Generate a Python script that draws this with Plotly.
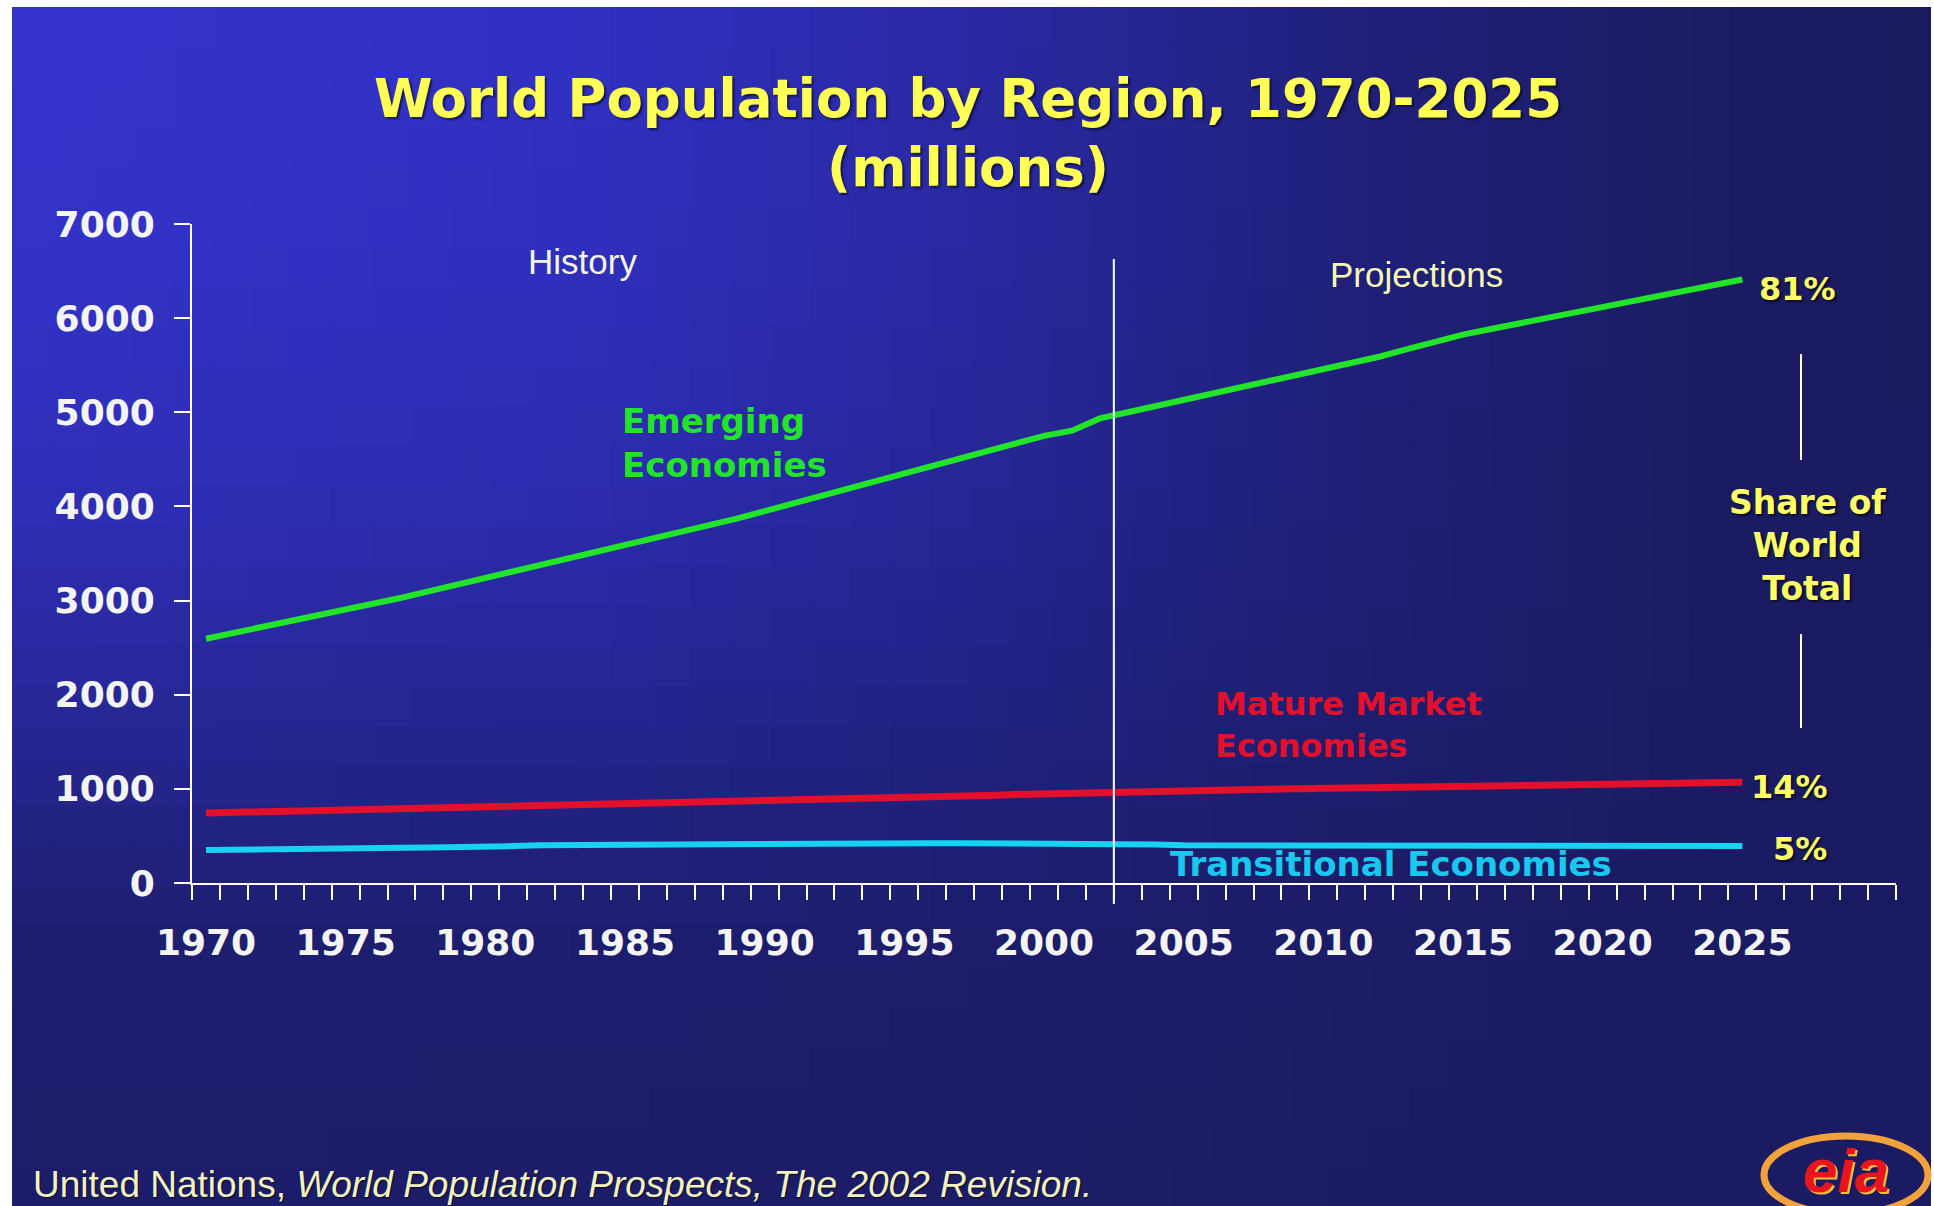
import plotly.graph_objects as go

# ---------------- data (millions) ----------------
years = list(range(1970, 2026))
emerging = [2595, 2655, 2720, 2790, 2850, 2910, 2970, 3030, 3100, 3170,
            3240, 3300, 3375, 3440, 3510, 3580, 3650, 3720, 3790, 3870,
            3950, 4030, 4110, 4190, 4270, 4350, 4430, 4510, 4600, 4675,
            4750, 4805, 4935, 5000, 5065, 5130, 5190, 5260, 5320, 5385,
            5445, 5510, 5590, 5670, 5750, 5825, 5885, 5945, 6000, 6060,
            6120, 6180, 6240, 6295, 6350, 6410]
mature = [744, 750, 756, 762, 768, 774, 780, 786, 792, 798,
          805, 812, 818, 825, 832, 838, 845, 852, 858, 866,
          873, 880, 887, 894, 901, 908, 915, 922, 929, 940,
          948, 956, 962, 967, 972, 977, 982, 990, 995, 1000,
          1005, 1012, 1016, 1020, 1024, 1030, 1034, 1038, 1042, 1046,
          1050, 1058, 1062, 1066, 1068, 1070]
transitional = [351, 352, 353, 354, 360, 370, 372, 374, 376, 378,
                381, 392, 401, 403, 405, 407, 409, 411, 416, 422,
                424, 425, 425, 424, 424, 423, 423, 422, 422, 421,
                421, 420, 420, 418, 410, 400, 399, 399, 398, 398,
                398, 397, 397, 397, 396, 396, 396, 395, 395, 395,
                394, 394, 394, 393, 393, 393]
label_years = [1970, 1975, 1980, 1985, 1990, 1995, 2000, 2005, 2010, 2015, 2020, 2025]
y_ticks = [0, 1000, 2000, 3000, 4000, 5000, 6000, 7000]
shares = {"Emerging": "81%", "Mature": "14%", "Transitional": "5%"}
history_end = 2002.5

assert len(emerging) == len(mature) == len(transitional) == len(years)

# ---------------- layout geometry ----------------
W, H = 1934, 1206
L, R, T, B = 192, 38, 224, 323
PW, PH = W - L - R, H - T - B


def px(xp):
    return (xp - L) / PW


def py(yp):
    return (H - B - yp) / PH


BOLD = "DejaVu Sans"
REG = "Liberation Sans"
YELLOW = "#ffff66"

fig = go.Figure()

fig.add_trace(go.Scatter(x=years, y=transitional, mode="lines",
                         line=dict(color="#18d2f2", width=6), name="Transitional Economies"))
fig.add_trace(go.Scatter(x=years, y=mature, mode="lines",
                         line=dict(color="#e3102c", width=7), name="Mature Market Economies"))
fig.add_trace(go.Scatter(x=years, y=emerging, mode="lines",
                         line=dict(color="#22e52a", width=6), name="Emerging Economies"))

# ---------------- background gradient (decoration) ----------------
shapes = []
x_left, x_right, y_top, y_bot = 12, 1930, 7, 1206
hstops = [(0.0, (52, 52, 206)), (0.3, (48, 48, 194)), (0.5, (41, 41, 164)),
          (0.7, (32, 32, 124)), (0.85, (28, 28, 104)), (1.0, (26, 26, 94))]
vstops = [(0.0, 0.0), (0.2, 0.05), (0.4, 0.2), (0.55, 0.45), (0.68, 0.7),
          (0.78, 0.88), (1.0, 0.95)]
dark = (27, 27, 100)


def interp(stops, t):
    for (t0, v0), (t1, v1) in zip(stops[:-1], stops[1:]):
        if t <= t1:
            f = (t - t0) / (t1 - t0) if t1 > t0 else 0
            if isinstance(v0, tuple):
                return tuple(a + (b - a) * f for a, b in zip(v0, v1))
            return v0 + (v1 - v0) * f
    return stops[-1][1]


NX, NY = 48, 30
cw = (x_right - x_left) / NX
ch = (y_bot - y_top) / NY
for i in range(NX):
    tx = (i + 0.5) / NX
    base = interp(hstops, tx)
    for j in range(NY):
        ty = (j + 0.5) / NY
        a = interp(vstops, ty)
        c = tuple(int(round(b * (1 - a) + d * a)) for b, d in zip(base, dark))
        shapes.append(dict(type="rect", xref="paper", yref="paper", layer="below",
                           x0=px(x_left + i * cw), x1=px(x_left + (i + 1) * cw + 1),
                           y0=py(y_top + j * ch), y1=py(y_top + (j + 1) * ch + 1),
                           line=dict(width=0), fillcolor="rgb(%d,%d,%d)" % c))

# History / projections divider
shapes.append(dict(type="line", xref="x", yref="paper", x0=history_end, x1=history_end,
                   y0=py(259), y1=py(904), line=dict(color="white", width=2), layer="above"))
# Share-of-world-total bracket lines
for y0p, y1p in [(354, 460), (634, 728)]:
    shapes.append(dict(type="line", xref="paper", yref="paper", x0=px(1801), x1=px(1801),
                       y0=py(y0p), y1=py(y1p), line=dict(color="white", width=2)))
# logo ellipse
shapes.append(dict(type="circle", xref="paper", yref="paper", x0=px(1764), x1=px(1928),
                   y0=py(1214), y1=py(1136), line=dict(color="#f2a23a", width=7),
                   fillcolor="rgba(0,0,0,0)"))

annotations = []


def ann(text, x, y, size, color, xref="x", yref="y", xanchor="center", yanchor="middle",
        family=BOLD, weight="bold", align="center", shadow="auto", style="normal"):
    annotations.append(dict(text=text, x=x, y=y, xref=xref, yref=yref, showarrow=False,
                            xanchor=xanchor, yanchor=yanchor, align=align,
                            font=dict(family=family, size=size, color=color, weight=weight,
                                      shadow=shadow, style=style)))


def dx(xp):
    return 1969.5 + (xp - L) / (PW / 61.0)


def dy(yp):
    return (H - B - yp) / PH * 7000


SH = "2px 2px 2px rgba(0,0,0,0.6)"
ann("History", dx(582), dy(261), 35, "#f4f4dc", family=REG, weight="normal", shadow="none")
ann("Projections", dx(1416), dy(274), 35, "#f8f8b4", family=REG, weight="normal", shadow="none")
ann("Emerging<br>Economies", dx(620), dy(443), 34, "#22e52a", xanchor="left", align="left",
    shadow="none")
ann("Mature Market<br>Economies", dx(1213), dy(725), 32, "#e3102c", xanchor="left",
    align="left", shadow="none")
ann("Transitional Economies", dx(1391), dy(864), 34, "#18c8ee", shadow="none")
ann(shares["Emerging"], dx(1797), dy(289), 32, YELLOW, shadow=SH)
ann(shares["Mature"], dx(1749), dy(787), 32, YELLOW, xanchor="left", shadow=SH)
ann(shares["Transitional"], dx(1800), dy(849), 32, YELLOW, shadow=SH)
ann("Share of<br>World<br>Total", dx(1807), dy(545), 33, YELLOW, shadow=SH)
ann("United Nations, <i>World Population Prospects, The 2002 Revision.</i>",
    px(31), py(1184), 37, "#f2f2c0", xref="paper", yref="paper", xanchor="left",
    family=REG, weight="normal", shadow="1px 1px 1px rgba(0,0,0,0.6)")
ann("<i>eia</i>", px(1846), py(1170), 62, "#e8161c", xref="paper", yref="paper",
    family="Liberation Sans", weight="bold", shadow="2px 2px 0px #f5c040")

fig.update_layout(
    width=W, height=H,
    margin=dict(l=L, r=R, t=T, b=B, pad=0),
    paper_bgcolor="white",
    plot_bgcolor="rgba(0,0,0,0)",
    showlegend=False,
    title=dict(text="World Population by Region, 1970-2025<br>(millions)",
               x=968 / W, xref="container", xanchor="center",
               y=1 - 117 / H, yref="container", yanchor="middle",
               font=dict(family=BOLD, size=53, color="#ffff55", weight="bold",
                         shadow="2px 2px 2px rgba(0,0,0,0.55)")),
    xaxis=dict(range=[1969.5, 2030.5], showgrid=False, zeroline=False,
               showline=True, linecolor="white", linewidth=2,
               tickmode="array", tickvals=label_years, ticktext=[str(v) for v in label_years],
               ticks="outside", ticklen=14, tickcolor="rgba(0,0,0,0)",
               ticklabelstandoff=13,
               tickfont=dict(family=BOLD, size=36, color="#f4f4f4", weight="bold"),
               minor=dict(tickmode="linear", tick0=1969.5, dtick=1, ticks="outside",
                          ticklen=15, tickwidth=2, tickcolor="white", showgrid=False)),
    yaxis=dict(range=[0, 7000], showgrid=False, zeroline=False,
               showline=True, linecolor="white", linewidth=2,
               tickmode="array", tickvals=y_ticks,
               ticks="outside", ticklen=16, tickwidth=2, tickcolor="white",
               ticklabelstandoff=12,
               tickfont=dict(family=BOLD, size=36, color="#f4f4f4", weight="bold")),
    shapes=shapes,
    annotations=annotations,
)

fig.write_html("out.html")
